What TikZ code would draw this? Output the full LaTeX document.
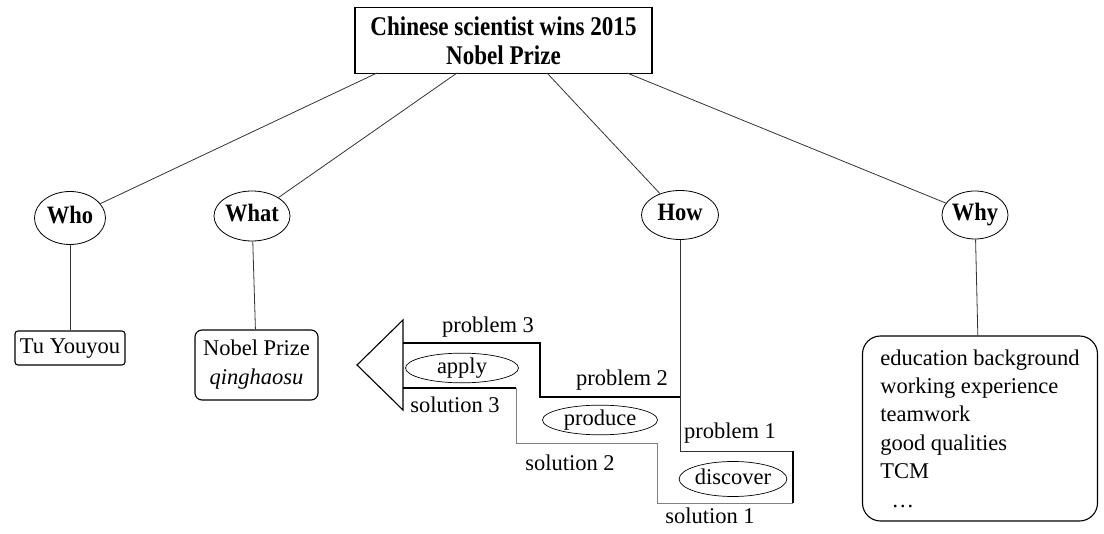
\documentclass[tikz,border=0pt]{standalone}
\usepackage{fontspec}
\setmainfont{Liberation Serif}
\newfontfamily\titlefont[FakeStretch=0.855]{Liberation Serif}
\newfontfamily\qfont[FakeStretch=0.9]{Liberation Serif}
\usetikzlibrary{shapes.geometric}
\begin{document}
\begin{tikzpicture}[x=1pt,y=-1pt,
  every node/.style={font=\fontsize{22.5}{28}\selectfont, text height=16pt, text depth=5pt},
  qbox/.style={draw, line width=1.1pt, inner sep=0pt},
  qell/.style={draw, ellipse, line width=0.8pt, inner sep=0pt, font=\qfont\fontsize{25}{28}\selectfont\bfseries, text height=17pt, text depth=5pt},
  sell/.style={draw, ellipse, line width=0.7pt, inner sep=0pt},
  lbl/.style={inner sep=0pt},
  link/.style={line width=0.8pt, draw=black!80},
  sol/.style={line width=0.8pt, draw=black!50},
]
\useasboundingbox (0,0) rectangle (1104,534);
% title
\node[qbox, minimum width=297pt, minimum height=66pt, align=center, font=\titlefont\fontsize{27}{29}\selectfont\bfseries, text height=, text depth=] (title) at (503.5,40.5) {Chinese scientist wins 2015\\Nobel Prize};
% question nodes
\node[qell, minimum width=71pt, minimum height=53pt] (who) at (70,218) {Who};
\node[qell, minimum width=71pt, minimum height=50pt] (what) at (252,216) {What};
\node[qell, minimum width=77pt, minimum height=49pt] (how) at (680,215) {How};
\node[qell, minimum width=66pt, minimum height=48pt] (why) at (975,215) {Why};
% start points on title
\coordinate (t1) at (377,73);
\coordinate (t2) at (457,73);
\coordinate (t3) at (547,73);
\coordinate (t4) at (627,73);
\draw[link] (t1) -- (who);
\draw[link] (t2) -- (what);
\draw[link] (t3) -- (how);
\draw[link] (t4) -- (why);
% answer boxes
\node[qbox, rounded corners=3pt, minimum width=110pt, minimum height=34pt] (tu) at (70,348) {Tu Youyou};
\node[qbox, rounded corners=7pt, minimum width=123pt, minimum height=70pt, align=center, text height=, text depth=, font=\fontsize{22.5}{29}\selectfont] (nobel) at (256.5,365) {Nobel Prize\\\textit{qinghaosu}};
\node[qbox, rounded corners=18pt, minimum width=235pt, minimum height=185pt, align=left, text height=, text depth=, font=\fontsize{22.5}{28.4}\selectfont] (whybox) at (980,428.5) {education background\\working experience\\teamwork\\good qualities\\TCM\\\ \ \dots};
\draw[link] (who) -- (tu);
\draw[link] (what) -- (nobel);
\draw[link] (why) -- (whybox);
% staircase
\coordinate (ta) at (403,320);
\coordinate (tb) at (357,365);
\coordinate (tc) at (403,410);
\draw[line width=1.1pt] (ta) -- (tb) -- (tc) -- cycle;
\coordinate (u0) at (403,343);
\coordinate (u1) at (540,343);
\coordinate (u2) at (540,397);
\coordinate (u3) at (680,397);
\coordinate (u4) at (680,451);
\coordinate (u5) at (793,451);
\coordinate (u6) at (793,503);
\draw[line width=1.1pt] (u0) -- (u1) -- (u2) -- (u3);
\draw[link] (how) -- (u4) -- (u5);
\draw[line width=1.2pt] (u5) -- (u6);
\coordinate (l0) at (403,388);
\coordinate (l1) at (516,388);
\coordinate (l2) at (516,443);
\coordinate (l3) at (657,443);
\coordinate (l4) at (657,503);
\draw[line width=1.1pt] (l0) -- (l1);
\draw[sol] (l1) -- (l2) -- (l3) -- (l4) -- (u6);
% labels
\node[lbl] (p3) at (488,327) {problem 3};
\node[sell, minimum width=113pt, minimum height=29pt] (apply) at (462,368) {apply};
\node[lbl] (s3) at (455,407) {solution 3};
\node[lbl] (p2) at (622,380) {problem 2};
\node[sell, minimum width=115pt, minimum height=28pt] (produce) at (600,420) {produce};
\node[lbl] (p1) at (730,433) {problem 1};
\node[lbl] (s2) at (570,465) {solution 2};
\node[sell, minimum width=105pt, minimum height=35pt] (discover) at (733,479) {discover};
\node[lbl] (s1) at (710,518) {solution 1};
\end{tikzpicture}
\end{document}
